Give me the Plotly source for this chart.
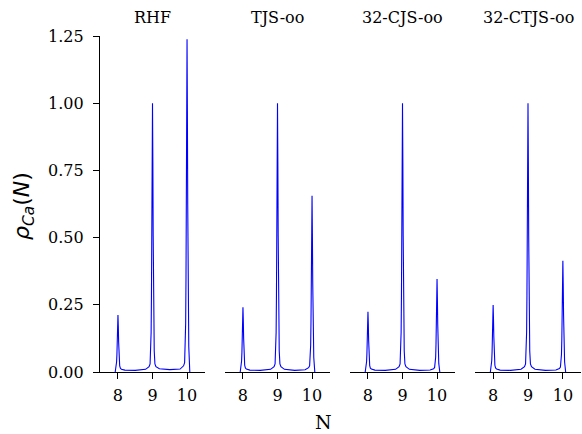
import plotly.graph_objects as go

titles = ["RHF", "TJS-oo", "32-CJS-oo", "32-CTJS-oo"]

N = [7.92, 7.95, 7.96, 7.97, 7.98, 7.99, 8.0, 8.01, 8.02, 8.03, 8.04, 8.05, 8.07, 8.1, 8.2,
     8.5, 8.8, 8.9, 8.93, 8.95, 8.96, 8.97, 8.98, 8.99, 9.0, 9.01, 9.02, 9.03, 9.04, 9.05,
     9.07, 9.1, 9.2, 9.5, 9.8, 9.9, 9.93, 9.95, 9.96, 9.97, 9.98, 9.99, 10.0, 10.01, 10.02,
     10.03, 10.04, 10.05, 10.08]

rho_rhf = [0.0, 0.023, 0.037, 0.065, 0.111, 0.169, 0.212, 0.169, 0.111, 0.065, 0.037, 0.023, 0.014, 0.0105, 0.007,
           0.006, 0.010, 0.020, 0.030, 0.078, 0.147, 0.286, 0.505, 0.784, 1.0, 0.784, 0.505, 0.286, 0.147, 0.078,
           0.030, 0.020, 0.012, 0.009, 0.011, 0.023, 0.035, 0.095, 0.180, 0.353, 0.624, 0.970, 1.238, 0.970, 0.624,
           0.353, 0.180, 0.095, 0.0]

rho_tjs = [0.0, 0.025, 0.041, 0.073, 0.125, 0.192, 0.241, 0.192, 0.125, 0.073, 0.041, 0.025, 0.015, 0.011, 0.007,
           0.006, 0.010, 0.020, 0.030, 0.078, 0.147, 0.286, 0.505, 0.784, 1.0, 0.784, 0.505, 0.286, 0.147, 0.078,
           0.030, 0.020, 0.010, 0.006, 0.0086, 0.016, 0.023, 0.054, 0.099, 0.190, 0.333, 0.516, 0.656, 0.516, 0.333,
           0.190, 0.099, 0.054, 0.0]

rho_cjs = [0.0, 0.024, 0.038, 0.069, 0.117, 0.179, 0.224, 0.179, 0.117, 0.069, 0.038, 0.024, 0.0145, 0.0107, 0.007,
           0.006, 0.010, 0.020, 0.030, 0.078, 0.147, 0.286, 0.505, 0.784, 1.0, 0.784, 0.505, 0.286, 0.147, 0.078,
           0.030, 0.020, 0.010, 0.006, 0.0074, 0.012, 0.017, 0.032, 0.055, 0.103, 0.178, 0.274, 0.346, 0.274, 0.178,
           0.103, 0.055, 0.032, 0.0]

rho_ctjs = [0.0, 0.025, 0.042, 0.076, 0.130, 0.198, 0.249, 0.198, 0.130, 0.076, 0.042, 0.025, 0.015, 0.011, 0.007,
            0.006, 0.010, 0.020, 0.030, 0.078, 0.147, 0.286, 0.505, 0.784, 1.0, 0.784, 0.505, 0.286, 0.147, 0.078,
            0.030, 0.020, 0.010, 0.006, 0.0077, 0.013, 0.018, 0.037, 0.065, 0.122, 0.212, 0.327, 0.414, 0.327, 0.212,
            0.122, 0.065, 0.037, 0.0]

series = [rho_rhf, rho_tjs, rho_cjs, rho_ctjs]
x_ticks = [8, 9, 10]
y_ticks = [0.0, 0.25, 0.5, 0.75, 1.0, 1.25]
y_tick_text = ["0.00", "0.25", "0.50", "0.75", "1.00", "1.25"]

W, H = 582, 434
px_domains = [(100, 205), (225, 330), (350, 455), (475, 581)]
y_dom = [(434 - 372) / H, (434 - 36) / H]
serif = "DejaVu Serif"
FS = 16

fig = go.Figure()
layout = dict(
    width=W, height=H, margin=dict(l=0, r=0, t=0, b=0, pad=0, autoexpand=False),
    paper_bgcolor="white", plot_bgcolor="white", showlegend=False,
    font=dict(family=serif, size=FS, color="black"),
)
annotations = []
for i, (ys, title) in enumerate(zip(series, titles)):
    k = "" if i == 0 else str(i + 1)
    fig.add_trace(go.Scatter(x=N, y=ys, mode="lines", line=dict(color="#0000ff", width=1.1),
                             xaxis="x" + k, yaxis="y" + k, hoverinfo="skip"))
    d0, d1 = px_domains[i][0] / W, px_domains[i][1] / W
    layout["xaxis" + k] = dict(
        domain=[d0, d1], range=[7.48, 10.52], anchor="y" + k, automargin=False,
        tickmode="array", tickvals=x_ticks, ticktext=[str(t) for t in x_ticks],
        ticks="outside", ticklen=6, tickwidth=1.3, tickcolor="black", ticklabelstandoff=3,
        showline=True, linecolor="black", linewidth=1.3, showgrid=False, zeroline=False,
        tickfont=dict(family=serif, size=FS, color="black"),
    )
    ydict = dict(
        domain=y_dom, range=[0, 1.25], anchor="x" + k, showgrid=False, zeroline=False,
        automargin=False,
    )
    if i == 0:
        ydict.update(tickmode="array", tickvals=y_ticks, ticktext=y_tick_text,
                     ticks="outside", ticklen=6, tickwidth=1.3, tickcolor="black",
                     ticklabelstandoff=6,
                     showline=True, linecolor="black", linewidth=1.3,
                     tickfont=dict(family=serif, size=FS, color="black"))
    else:
        ydict.update(showticklabels=False, showline=False, ticks="")
    layout["yaxis" + k] = ydict
    annotations.append(dict(
        text=title, x=(d0 + d1) / 2, y=(434 - 17) / H, xref="paper", yref="paper",
        showarrow=False, xanchor="center", yanchor="middle",
        font=dict(family=serif, size=FS, color="black")))

annotations.append(dict(
    text="<i>ρ</i><sub><i>Ca</i></sub>(<i>N</i>)", x=23 / W, y=(434 - 206) / H,
    xref="paper", yref="paper", showarrow=False, textangle=-90,
    xanchor="center", yanchor="middle",
    font=dict(family="DejaVu Sans", size=22, color="black")))
annotations.append(dict(
    text="N", x=323 / W, y=(434 - 422) / H, xref="paper", yref="paper",
    showarrow=False, xanchor="center", yanchor="middle",
    font=dict(family=serif, size=19, color="black")))
layout["annotations"] = annotations
fig.update_layout(**layout)
fig.write_html("out.html", config={"displayModeBar": False},
               post_script="document.body.style.margin='0';document.body.style.overflow='hidden';")
